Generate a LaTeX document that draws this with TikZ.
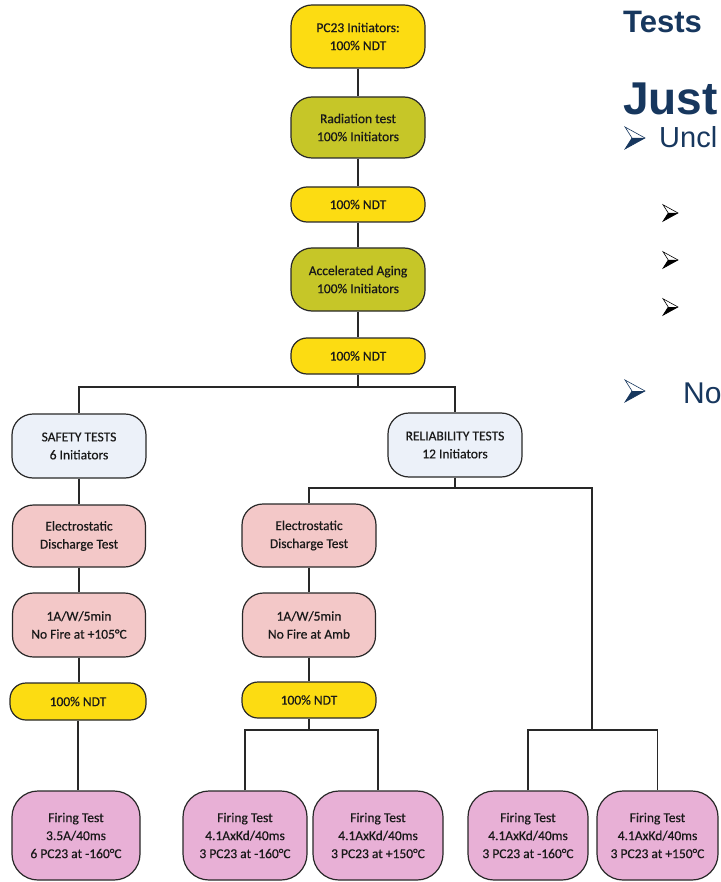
\documentclass[tikz,border=0pt]{standalone}
\usepackage{fontspec}
\setmainfont{Carlito}[FakeBold=0.5]
\newfontfamily\arialf{Liberation Sans}
\definecolor{ndtyellow}{RGB}{252,220,18}
\definecolor{olivebox}{RGB}{198,198,40}
\definecolor{paleblue}{RGB}{236,241,249}
\definecolor{salmonbox}{RGB}{243,200,200}
\definecolor{firepink}{RGB}{232,176,214}
\definecolor{navytext}{RGB}{23,55,94}
\definecolor{lineclr}{RGB}{40,40,40}
\tikzset{
  flow/.style={draw=lineclr, line width=1.2pt, inner sep=0pt, align=center,
    font=\fontsize{13.5}{18}\selectfont, text=black!90},
  tall/.style={flow, minimum width=134pt, minimum height=63pt, rounded corners=21pt},
  thin/.style={flow, minimum width=134pt, minimum height=36pt, rounded corners=16pt},
  firebox/.style={flow, minimum height=89pt, rounded corners=26pt, fill=firepink},
  conn/.style={draw=lineclr, line width=1.2pt},
  bul/.pic={
    \fill (7,0) -- (20,0) -- (0,11) -- cycle;
    \draw[line width=0.6pt] (0,-11) -- (20,0) -- (0,11) -- (7,0) -- cycle;
  },
  rtext/.style={inner sep=0pt, anchor=base west, text=navytext}
}
\begin{document}
\begin{tikzpicture}[x=1pt,y=-1pt]
\useasboundingbox (0,0) rectangle (720,882);
\clip (0,0) rectangle (720,882);
\fill[white] (0,0) rectangle (720,882);

% right-hand slide text
\node[rtext, font=\arialf\bfseries\fontsize{31}{31}\selectfont] (tt) at (623,33) {Tests};
\node[rtext, font=\arialf\bfseries\fontsize{46}{46}\selectfont] (jt) at (623,115) {Just};
\node[rtext, font=\arialf\fontsize{29}{29}\selectfont] (ut) at (659,148) {Uncl};
\node[rtext, font=\arialf\fontsize{30}{30}\selectfont] (nt) at (683,403) {No};
\pic[color=navytext] at (625,138) {bul};
\pic[color=navytext] at (625,391) {bul};
\pic[color=black, scale=0.75] at (663,213) {bul};
\pic[color=black, scale=0.75] at (663,260) {bul};
\pic[color=black, scale=0.75] at (663,307) {bul};

% top chain
\node[tall, fill=ndtyellow] (pc) at (358,36.5) {PC23 Initiators:\\100\% NDT};
\node[tall, fill=olivebox, minimum height=61pt] (rad) at (358,127.5) {Radiation test\\100\% Initiators};
\node[thin, fill=ndtyellow, minimum height=35pt] (n1) at (358,204.5) {100\% NDT};
\node[tall, fill=olivebox] (age) at (358,279.5) {Accelerated Aging\\100\% Initiators};
\node[thin, fill=ndtyellow] (n2) at (358,356) {100\% NDT};

% branches
\node[tall, fill=paleblue, minimum height=64pt] (saf) at (79,446) {SAFETY TESTS\\6 Initiators};
\node[tall, fill=paleblue, minimum height=64pt] (rel) at (455,445) {RELIABILITY TESTS\\12 Initiators};

\node[tall, fill=salmonbox, minimum width=133pt, minimum height=62pt] (esa) at (79,536) {Electrostatic\\Discharge Test};
\node[tall, fill=salmonbox, minimum height=63pt] (esb) at (309,535.5) {Electrostatic\\Discharge Test};
\node[tall, fill=salmonbox, minimum width=133pt, minimum height=64pt] (ama) at (79,625) {1A/W/5min\\No Fire at +105\textdegree C};
\node[tall, fill=salmonbox, minimum width=133pt, minimum height=64pt] (amb) at (309,625) {1A/W/5min\\No Fire at Amb};
\node[thin, fill=ndtyellow, minimum width=136pt, minimum height=37pt] (n3) at (78,701.5) {100\% NDT};
\node[thin, fill=ndtyellow] (n4) at (309,700) {100\% NDT};

\node[firebox, minimum width=128pt] (f1) at (76,835.5) {Firing Test\\3.5A/40ms\\6 PC23 at -160\textdegree C};
\node[firebox, minimum width=124pt] (f2) at (245,835.5) {Firing Test\\4.1AxKd/40ms\\3 PC23 at -160\textdegree C};
\node[firebox, minimum width=130pt] (f3) at (378,835.5) {Firing Test\\4.1AxKd/40ms\\3 PC23 at +150\textdegree C};
\node[firebox, minimum width=120pt] (f4) at (528,835.5) {Firing Test\\4.1AxKd/40ms\\3 PC23 at -160\textdegree C};
\node[firebox, minimum width=121pt] (f5) at (657.5,835.5) {Firing Test\\4.1AxKd/40ms\\3 PC23 at +150\textdegree C};

% junctions
\coordinate (j1) at (358,387);
\coordinate (j2) at (455,488);
\coordinate (j3) at (592,730);
\coordinate (j4) at (309,730);

% connectors
\draw[conn] (pc) -- (rad);
\draw[conn] (rad) -- (n1);
\draw[conn] (n1) -- (age);
\draw[conn] (age) -- (n2);
\draw[conn] (n2) -- (j1);
\draw[conn] (saf.north) |- (j1) -| (rel.north);
\draw[conn] (saf) -- (esa);
\draw[conn] (esa) -- (ama);
\draw[conn] (ama.south) -- (ama.south |- n3.north);
\draw[conn] (n3.south) -- (n3.south |- f1.north);
\draw[conn] (rel) -- (j2);
\draw[conn] (esb.north) |- (j2) -| (j3);
\draw[conn] (esb) -- (amb);
\draw[conn] (amb) -- (n4);
\draw[conn] (n4) -- (j4);
\draw[conn] (f2.north) |- (j4) -| (f3.north);
\draw[conn] (f4.north) |- (j3) -| (f5.north);
\end{tikzpicture}
\end{document}
